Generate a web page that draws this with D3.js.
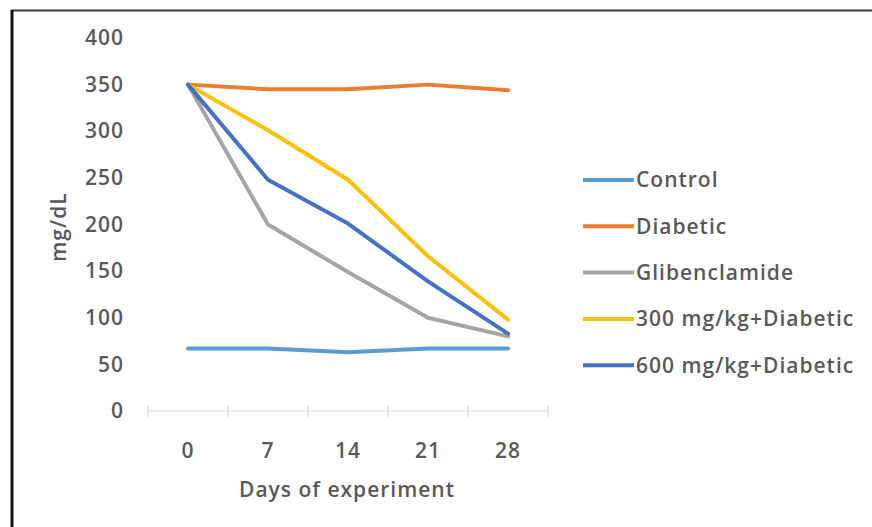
<!DOCTYPE html>
<html>
<head>
<meta charset="utf-8">
<script src="https://cdn.jsdelivr.net/npm/d3@7"></script>
<style>
  html, body { margin: 0; padding: 0; background: #fff; }
  svg { display: block; }
  text { font-family: "Open Sans", Lato, sans-serif; font-weight: 600; fill: #595959; }
</style>
</head>
<body>
<svg id="chart" width="872" height="527"></svg>
<script>
// Blood glucose (mg/dL) over the experiment, per treatment group
const days = ["0", "7", "14", "21", "28"];
const yTicks = [0, 50, 100, 150, 200, 250, 300, 350, 400];
const seriesNames = ["Control", "Diabetic", "Glibenclamide", "300 mg/kg+Diabetic", "600 mg/kg+Diabetic"];
const seriesColors = ["#5B9BD5", "#ED7D31", "#A5A5A5", "#FFC000", "#4472C4"];
const controlValues = [67, 67, 63, 67, 67];
const diabeticValues = [350, 345, 345, 350, 344];
const glibenclamideValues = [350, 200, 149, 100, 80];
const dose300Values = [350, 301, 248, 166, 98];
const dose600Values = [350, 248, 201, 139, 83];

const seriesValues = [controlValues, diabeticValues, glibenclamideValues, dose300Values, dose600Values];
const fontSize = "21px";

const svg = d3.select("#chart");

// outer frame: only its top and left edges fall inside the picture
svg.append("line").attr("x1", 11).attr("x2", 872).attr("y1", 10.5).attr("y2", 10.5)
  .attr("stroke", "#3a3a3a").attr("stroke-width", 2);
svg.append("line").attr("x1", 12).attr("x2", 12).attr("y1", 10).attr("y2", 527)
  .attr("stroke", "#111").attr("stroke-width", 3);

const x = d3.scaleBand().domain(days).range([148, 548]);
const y = d3.scaleLinear().domain([0, 400]).range([411, 38]);

function styleText(sel) {
  sel.style("font-size", fontSize).attr("fill", "#595959")
    .style("font-family", "'Open Sans', Lato, sans-serif").style("font-weight", "600")
    .style("letter-spacing", "1px");
}

// y axis labels (no axis line or gridlines)
const yAxis = d3.axisLeft(y).tickValues(yTicks).tickSize(0).tickPadding(0);
const gy = svg.append("g").attr("transform", "translate(124,0)").call(yAxis);
gy.select(".domain").remove();
gy.selectAll("text").call(styleText);

// x axis: light baseline with crossing tick marks at band boundaries
const xBase = svg.append("g");
xBase.append("line").attr("x1", x.range()[0]).attr("x2", x.range()[1])
  .attr("y1", y(0)).attr("y2", y(0)).attr("stroke", "#D9D9D9").attr("stroke-width", 1.2);
const bounds = days.map(d => x(d)).concat([x.range()[1]]);
xBase.selectAll("line.tick").data(bounds).join("line").attr("class", "tick")
  .attr("x1", d => d).attr("x2", d => d)
  .attr("y1", y(0) - 6).attr("y2", y(0) + 6)
  .attr("stroke", "#D9D9D9").attr("stroke-width", 1.2);

const xAxis = d3.axisBottom(x).tickSize(0).tickPadding(0);
const gx = svg.append("g").attr("transform", "translate(0,443)").call(xAxis);
gx.select(".domain").remove();
gx.selectAll("text").call(styleText);

// axis titles
svg.append("text").attr("x", 347).attr("y", 497).attr("text-anchor", "middle")
  .call(styleText).text("Days of experiment");
svg.append("text").attr("transform", "translate(66,227) rotate(-90)").attr("text-anchor", "middle")
  .call(styleText).text("mg/dL");

// series lines
const line = d3.line().x((d, i) => x(days[i]) + x.bandwidth() / 2).y(d => y(d));
svg.append("g").selectAll("path").data(seriesValues).join("path")
  .attr("d", line)
  .attr("fill", "none")
  .attr("stroke", (d, i) => seriesColors[i])
  .attr("stroke-width", 4)
  .attr("stroke-linejoin", "round")
  .attr("stroke-linecap", "round");

// legend
const legend = svg.append("g").attr("transform", "translate(583,180)");
const rows = legend.selectAll("g").data(seriesNames).join("g")
  .attr("transform", (d, i) => `translate(0,${i * 46.3})`);
rows.append("line").attr("x1", 0).attr("x2", 51).attr("y1", 0).attr("y2", 0)
  .attr("stroke", (d, i) => seriesColors[i]).attr("stroke-width", 4);
rows.append("text").attr("x", 53).attr("y", 0).attr("dy", "0.35em")
  .call(styleText).text(d => d);
</script>
</body>
</html>
